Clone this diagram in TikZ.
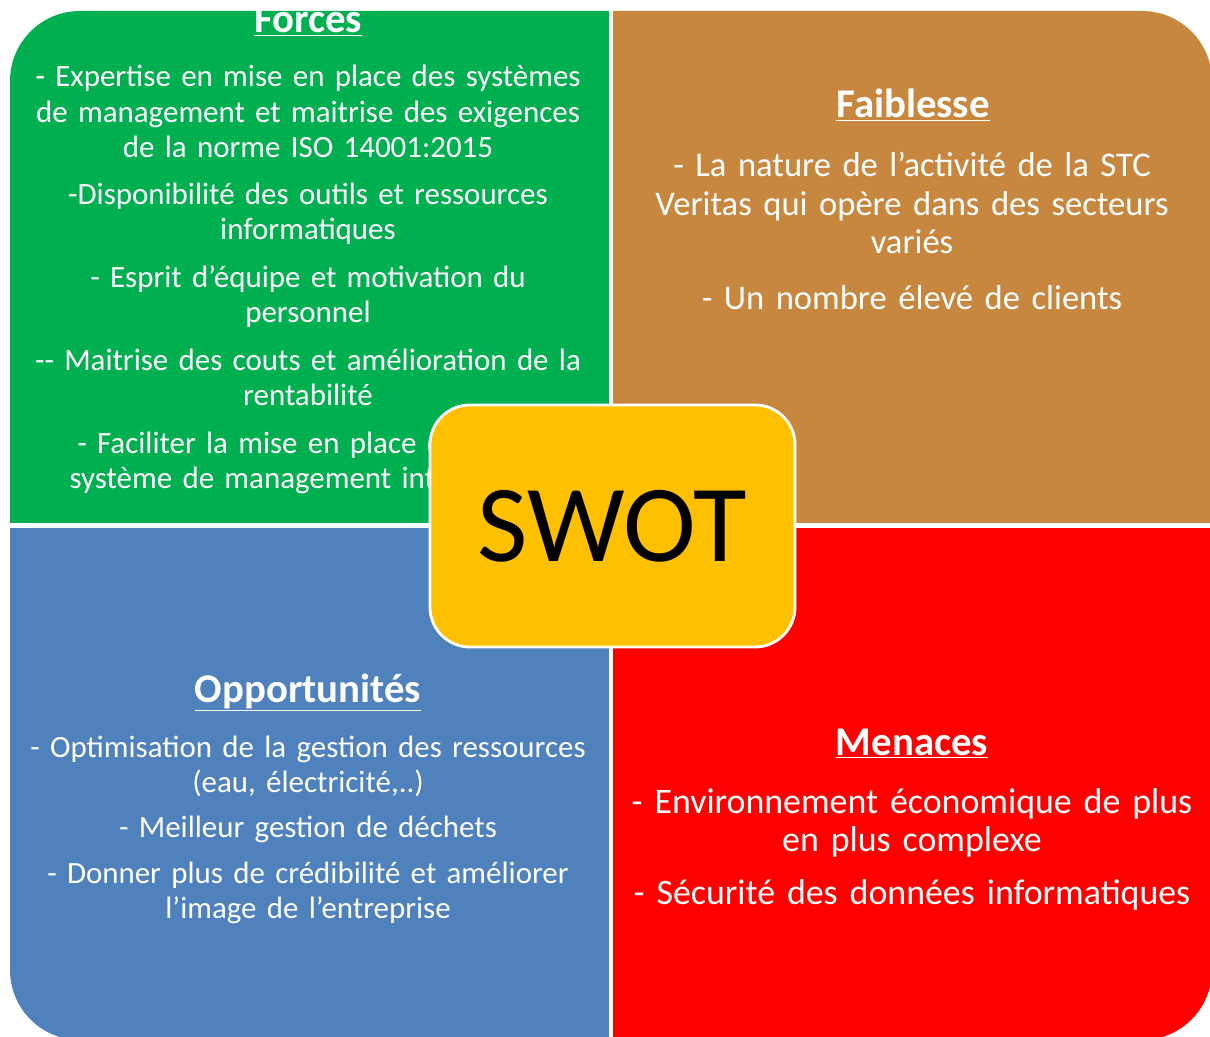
\documentclass[tikz,border=0pt]{standalone}
\usepackage{fontspec}
\setmainfont{Carlito}
\definecolor{forcesgreen}{HTML}{00B050}
\definecolor{faiblbrown}{HTML}{C8873F}
\definecolor{opporblue}{HTML}{4F81BD}
\definecolor{menacered}{HTML}{FF0000}
\definecolor{swotyellow}{HTML}{FFC000}
\begin{document}
\begin{tikzpicture}[x=0.025cm, y=-0.025cm,
      head/.style={anchor=base, text=white, font=\fontsize{29}{32}\selectfont\bfseries},
      small/.style={anchor=base, text=white, text width=15.5cm, align=center, font=\fontsize{22}{24.9}\selectfont},
      big/.style={anchor=base, text=white, text width=15.5cm, align=center, font=\fontsize{24.6}{27.3}\selectfont}]
      \useasboundingbox (0,0) rectangle (1210,1037);
      % Quadrants
      \begin{scope}
        \clip[rounded corners=1.75cm] (10,11) rectangle (1212,1040);
        \fill[forcesgreen] (0,0) rectangle (609,523);
        \fill[faiblbrown] (613,0) rectangle (1220,523);
        \fill[opporblue] (0,528) rectangle (609,1050);
        \fill[menacered] (613,528) rectangle (1220,1050);
      \end{scope}
      % Forces
      \node[head] (forcesT) at (308,33) {\underline{Forces}};
      \node[small] (forces) at (308,87) {- Expertise en mise en place des systèmes\\
        de management et maitrise des exigences\\
        de la norme ISO 14001:2015\\[9pt]
        -Disponibilité des outils et ressources\\
        informatiques\\[9pt]
        - Esprit d’équipe et motivation du\\
        personnel\\[9pt]
        -{}- Maitrise des couts et amélioration de la\\
        rentabilité};
      \node[small] (forcesE) at (280,453) {- Faciliter la mise en place d’un\\
        système de management intégré};
      % Faiblesse
      \node[head] (faiblT) at (913,118) {\underline{Faiblesse}};
      \node[big] (faibl) at (912,177) {- La nature de l’activité de la STC\\
        Veritas qui opère dans des secteurs\\
        variés\\[12pt]
        - Un nombre élevé de clients};
      % Opportunites
      \node[head] (opporT) at (308,702) {\underline{Opportunités}};
      \node[small] (oppor) at (308,757) {- Optimisation de la gestion des ressources\\
        (eau, électricité,..)\\[7.5pt]
        - Meilleur gestion de déchets\\[7.5pt]
        - Donner plus de crédibilité et améliorer\\
        l’image de l’entreprise};
      % Menaces
      \node[head] (menaceT) at (912,755) {\underline{Menaces}};
      \node[big, font=\fontsize{25.5}{27.7}\selectfont] (menace) at (912,813) {- Environnement économique de plus\\
        en plus complexe\\[10pt]
        - Sécurité des données informatiques};
      % SWOT
      \node[draw=white, line width=2pt, fill=swotyellow, rounded corners=1cm,
        minimum width=9.125cm, minimum height=6.05cm,
        font=\fontsize{78}{82}\selectfont] (swot) at (612.5,526) {SWOT};
    \end{tikzpicture}
\end{document}
